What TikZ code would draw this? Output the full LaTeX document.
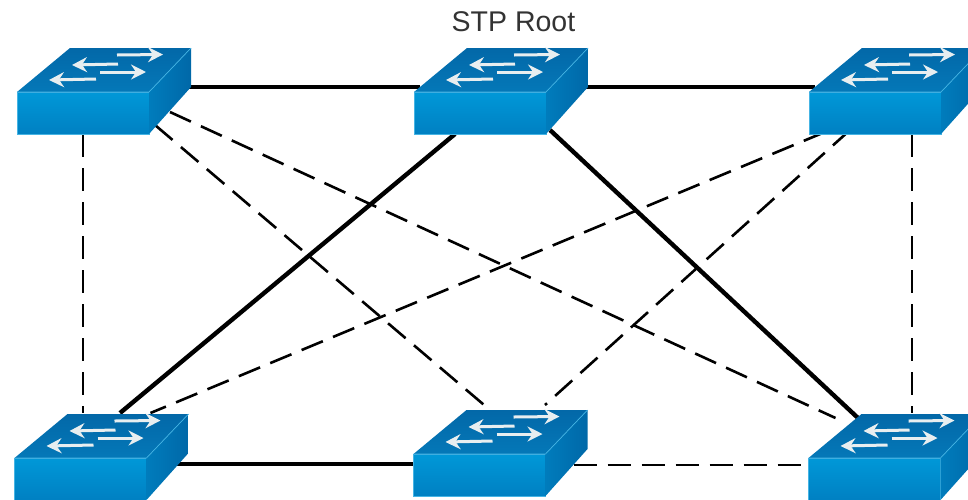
\documentclass[tikz,border=0pt]{standalone}
\usepackage{fontspec}
\setmainfont{Liberation Sans}
\usetikzlibrary{arrows.meta,backgrounds,calc}
\definecolor{swfrontT}{HTML}{0098D8}
\definecolor{swfrontB}{HTML}{0080C2}
\definecolor{swtopT}{HTML}{0368A8}
\definecolor{swtopB}{HTML}{0478B8}
\definecolor{swsideL}{HTML}{007CBC}
\definecolor{swsideR}{HTML}{0068A8}
\definecolor{swedge}{HTML}{45B4E4}
\definecolor{swarr}{HTML}{E8EEF0}
\tikzset{
  x=1pt,y=-1pt,
  swfront/.style={rectangle,inner sep=0pt,outer sep=0pt,minimum width=132pt,minimum height=42pt,top color=swfrontT,bottom color=swfrontB,draw=swedge,line width=0.8pt},
  swtop/.style={top color=swtopT,bottom color=swtopB},
  swside/.style={left color=swsideL,right color=swsideR},
  swline/.style={draw=swedge,line width=0.7pt},
  swarrow/.style={draw=swarr,line width=3pt,-{Stealth[length=15pt,width=15pt,inset=5pt]}},
  uplink/.style={draw=black,line width=4.4pt},
  spare/.style={draw=black,line width=2.6pt,dash pattern=on 23pt off 11pt},
  lbl/.style={font=\fontsize{28.5}{32}\selectfont,text=black!80,inner sep=0pt}
}
\newcommand{\swbox}[3]{%
  \node[swfront] (#1) at (#2,#3) {};
  \shade[swtop] (#1.north west) -- ++(53,-44) -- ++(121,0) -- ++(-42,44) -- cycle;
  \shade[swside] (#1.north east) -- ++(42,-44) -- ++(0,39) -- (#1.south east) -- cycle;
  \draw[swline] (#1.north west) -- (#1.north east) -- ++(42,-44);
  \draw[swarrow] ([shift={(100,-37)}]#1.north west) -- ++(46,-0.5);
  \draw[swarrow] ([shift={(101,-28)}]#1.north west) -- ++(-46,1);
  \draw[swarrow] ([shift={(83,-20)}]#1.north west) -- ++(46,0);
  \draw[swarrow] ([shift={(79,-13)}]#1.north west) -- ++(-47,1);
}
\begin{document}
\begin{tikzpicture}
\useasboundingbox (0,0) rectangle (968,499);
\node[lbl] (root) at (513.5,22) {STP Root};
\swbox{tl}{83}{113}
\swbox{tm}{480}{113}
\swbox{tr}{875}{113}
\swbox{bl}{80.5}{479}
\swbox{bm}{479.5}{475}
\swbox{br}{874.5}{479}
\begin{scope}[on background layer]
  \draw[uplink] ([shift={(100,-26)}]tl.center) -- ([shift={(-60,-26)}]tm.center);
  \draw[uplink] ([shift={(60,-26)}]tm.center) -- ([shift={(-60,-26)}]tr.center);
  \draw[uplink] ([shift={(-25,21)}]tm.center) -- ([shift={(39.5,-66)}]bl.center);
  \draw[uplink] ([shift={(70,17)}]tm.center) -- ([shift={(-16.5,-61)}]br.center);
  \draw[uplink] ([shift={(60,-15)}]bl.center) -- ([shift={(-60,-11)}]bm.center);
  \draw[spare] ([shift={(0,21)}]tl.center) -- ([shift={(2.5,-66)}]bl.center);
  \draw[spare] ([shift={(37,21)}]tr.center) -- ([shift={(37.5,-66)}]br.center);
  \draw[spare] ([shift={(60,-10)}]bm.center) -- ([shift={(-60,-14)}]br.center);
  \draw[spare] ([shift={(87,-1)}]tl.center) -- ([shift={(-39,-61)}]br.center);
  \draw[spare] ([shift={(72,12)}]tl.center) -- ([shift={(10.5,-65)}]bm.center);
  \draw[spare] ([shift={(-50,19)}]tr.center) -- ([shift={(70,-66)}]bl.center);
  \draw[spare] ([shift={(-25,17)}]tr.center) -- ([shift={(65.5,-70)}]bm.center);
\end{scope}
\end{tikzpicture}
\end{document}
